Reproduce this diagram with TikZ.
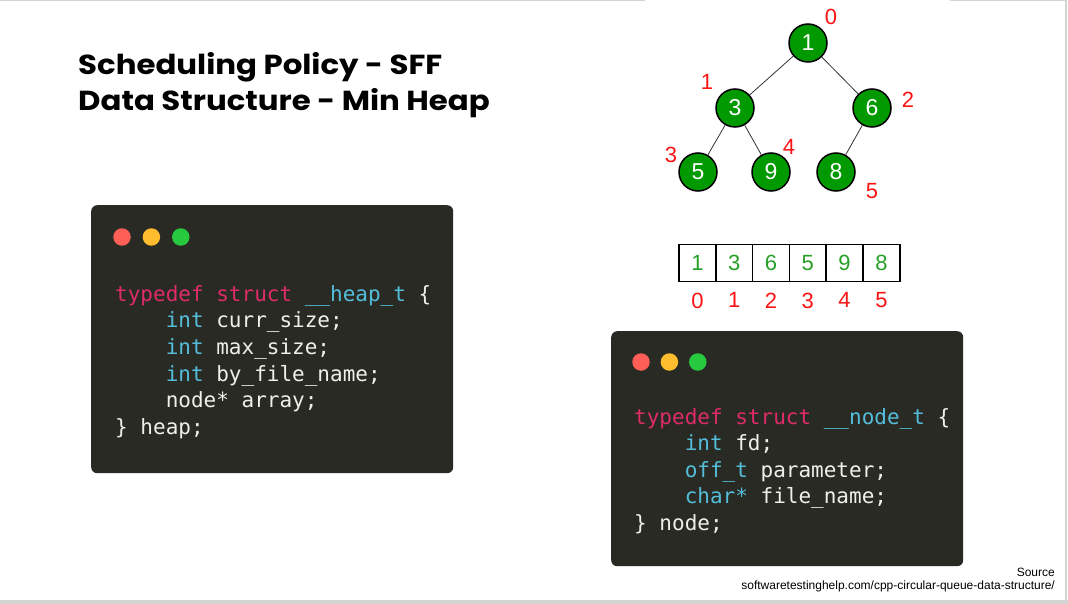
\documentclass[tikz,border=0pt]{standalone}
\usepackage{fontspec}
\setmainfont{Liberation Sans}
\newfontfamily\titlefont[FakeStretch=1.12]{Poppins}
\newfontfamily\codefont{DejaVu Sans Mono}
\usetikzlibrary{positioning}

\definecolor{codebg}{RGB}{41,42,36}
\definecolor{codewhite}{RGB}{240,240,234}
\definecolor{kwpink}{RGB}{222,44,104}
\definecolor{tycyan}{RGB}{84,190,218}
\definecolor{dotred}{RGB}{255,95,86}
\definecolor{dotyellow}{RGB}{255,189,46}
\definecolor{dotgreen}{RGB}{39,201,63}
\definecolor{heapgreen}{RGB}{0,153,0}
\definecolor{arrgreen}{RGB}{40,160,40}
\definecolor{idxred}{RGB}{250,20,20}
\definecolor{framegray}{RGB}{212,212,212}
\newcommand{\kw}[1]{\textcolor{kwpink}{#1}}
\newcommand{\ty}[1]{\textcolor{tycyan}{#1}}
\newcommand{\tab}{\phantom{xxxx}}

\begin{document}
\begin{tikzpicture}[
  x=1pt, y=-1pt,
  title/.style={anchor=base west,inner sep=0,
                font={\titlefont\bfseries\fontsize{27.5pt}{36pt}\selectfont}},
  codebox/.style={fill=codebg,rounded corners=6pt,anchor=north west,
                  inner sep=0},
  winbtn/.style={circle,minimum size=17.5pt,inner sep=0},
  codeline/.style={anchor=base west,inner sep=0,text=codewhite,
                   font={\codefont\fontsize{21pt}{26pt}\selectfont}},
  hnode/.style={circle,draw=black,line width=1.5pt,fill=heapgreen,
                minimum size=38pt,inner sep=0,text=white,
                font=\fontsize{23pt}{23pt}\selectfont},
  link/.style={draw=black!80,line width=0.8pt},
  idx/.style={text=idxred,inner sep=0,font=\fontsize{22pt}{22pt}\selectfont},
  cell/.style={draw=black,line width=1.5pt,minimum width=36.8pt,
               minimum height=37pt,inner sep=0,outer sep=0,text=arrgreen,
               font=\fontsize{22pt}{22pt}\selectfont}
]
\useasboundingbox (0,0) rectangle (1068,604);
\fill[white] (0,0) rectangle (1068,604);

% slide frame
\draw[framegray,line width=1.5pt] (0,0.75) -- (645,0.75);
\draw[framegray,line width=1.5pt] (950,0.75) -- (1066,0.75) -- (1066,600);
\fill[framegray] (0,600) rectangle (1068,604);

% title
\node[title] (title1) at (78,75) {Scheduling Policy - SFF};
\node[title] (title2) at (78,111) {Data Structure - Min Heap};

% heap tree
\node[hnode] (n1) at (808,43) {1};
\node[hnode] (n3) at (735,108) {3};
\node[hnode] (n6) at (872,108) {6};
\node[hnode] (n5) at (698,172) {5};
\node[hnode] (n9) at (771,172) {9};
\node[hnode] (n8) at (836,172) {8};
\draw[link] (n1) -- (n3);
\draw[link] (n1) -- (n6);
\draw[link] (n3) -- (n5);
\draw[link] (n3) -- (n9);
\draw[link] (n6) -- (n8);

\node[idx] (t0) at (831,17) {0};
\node[idx] (t1) at (707,82) {1};
\node[idx] (t2) at (908,100) {2};
\node[idx] (t3) at (671,155) {3};
\node[idx] (t4) at (789,147) {4};
\node[idx] (t5) at (872,191) {5};

% array
\node[cell] (c0) at (697.4,263) {1};
\node[cell,right=0pt of c0] (c1) {3};
\node[cell,right=0pt of c1] (c2) {6};
\node[cell,right=0pt of c2] (c3) {5};
\node[cell,right=0pt of c3] (c4) {9};
\node[cell,right=0pt of c4] (c5) {8};
\node[idx,below=11pt of c0] (a0) {0};
\node[idx,below=11pt of c1] (a1) {1};
\node[idx,below=11pt of c2] (a2) {2};
\node[idx,below=11pt of c3] (a3) {3};
\node[idx,below=11pt of c4] (a4) {4};
\node[idx,below=11pt of c5] (a5) {5};

% heap struct
\node[codebox,minimum width=362pt,minimum height=268pt] (heapbox) at (91,205) {};
\node[winbtn,fill=dotred] (hred) at (122,237) {};
\node[winbtn,fill=dotyellow,right=11.5pt of hred] (hyel) {};
\node[winbtn,fill=dotgreen,right=11.5pt of hyel] (hgrn) {};
\node[codeline] (h1) at (115,301) {\kw{typedef struct} \ty{\_\_heap\_t} \{};
\node[codeline] (h2) at (115,327.7) {\tab\ty{int} curr\_size;};
\node[codeline] (h3) at (115,354.4) {\tab\ty{int} max\_size;};
\node[codeline] (h4) at (115,381.1) {\tab\ty{int} by\_file\_name;};
\node[codeline] (h5) at (115,407.8) {\tab node* array;};
\node[codeline] (h6) at (115,434.5) {\} heap;};

% node struct
\node[codebox,minimum width=352pt,minimum height=235pt] (nodebox) at (611,331) {};
\node[winbtn,fill=dotred] (nred) at (641,362) {};
\node[winbtn,fill=dotyellow,right=10.5pt of nred] (nyel) {};
\node[winbtn,fill=dotgreen,right=10.5pt of nyel] (ngrn) {};
\node[codeline] (k1) at (634,424) {\kw{typedef struct} \ty{\_\_node\_t} \{};
\node[codeline] (k2) at (634,450.5) {\tab\ty{int} fd;};
\node[codeline] (k3) at (634,477) {\tab\ty{off\_t} parameter;};
\node[codeline] (k4) at (634,503.5) {\tab\ty{char*} file\_name;};
\node[codeline] (k5) at (634,530) {\} node;};

% source
\node[anchor=base east,inner sep=0,font=\fontsize{12pt}{14pt}\selectfont]
  (srclabel) at (1055,576) {Source};
\node[anchor=base east,inner sep=0,font=\fontsize{12pt}{14pt}\selectfont]
  (srcurl) at (1055,589) {softwaretestinghelp.com/cpp-circular-queue-data-structure/};
\end{tikzpicture}
\end{document}
